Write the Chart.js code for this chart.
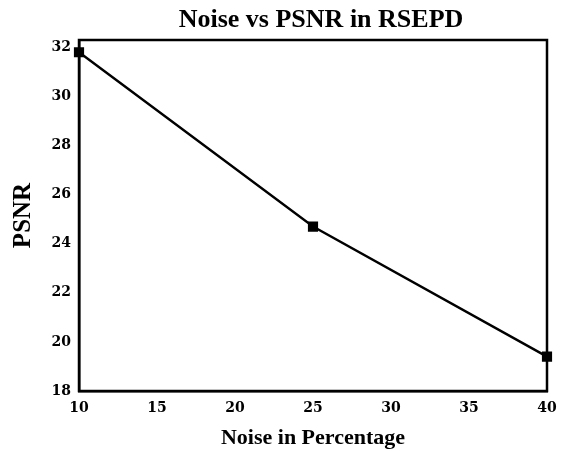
<!DOCTYPE html>
<html>
<head>
<meta charset="utf-8">
<script src="https://cdn.jsdelivr.net/npm/chart.js@4"></script>
<style>
html,body{margin:0;padding:0;background:#fff;}
#wrap{width:561px;height:452px;position:relative;}
</style>
</head>
<body>
<div id="wrap"><canvas id="c" width="561" height="452"></canvas></div>
<script>
const chartTitle = "Noise vs PSNR in RSEPD";
const xTitle = "Noise in Percentage";
const yTitle = "PSNR";
const noiseLevels = [10, 25, 40];
const psnrValues = [31.8, 24.7, 19.4];
const xTickValues = [10, 15, 20, 25, 30, 35, 40];
const yTickValues = [18, 20, 22, 24, 26, 28, 30, 32];

const boxPlugin = {
  id: 'boxAndTitle',
  afterDraw(chart) {
    const {ctx, chartArea: a} = chart;
    ctx.save();
    ctx.strokeStyle = '#000';
    ctx.lineWidth = 2.5;
    ctx.strokeRect(a.left, a.top, a.right - a.left, a.bottom - a.top);
    ctx.fillStyle = '#000';
    ctx.font = 'bold 26px "Liberation Serif", serif';
    ctx.textAlign = 'center';
    ctx.textBaseline = 'alphabetic';
    ctx.fillText(chartTitle, 321, 27);
    ctx.restore();
  }
};

new Chart(document.getElementById('c'), {
  type: 'line',
  data: {
    datasets: [{
      data: noiseLevels.map((x, i) => ({x: x, y: psnrValues[i]})),
      borderColor: '#000',
      backgroundColor: '#000',
      borderWidth: 2.4,
      pointStyle: 'rect',
      pointRadius: 5.5,
      pointHoverRadius: 5.5,
      tension: 0,
      clip: false
    }]
  },
  options: {
    responsive: false,
    animation: false,
    layout: {padding: {top: 40, right: 14, left: 9, bottom: 0}},
    plugins: {legend: {display: false}, title: {display: false}, tooltip: {enabled: false}},
    scales: {
      x: {
        type: 'linear',
        min: 10, max: 40,
        afterBuildTicks: s => { s.ticks = xTickValues.map(v => ({value: v})); },
        afterFit: s => { s.height = 61; s.paddingRight = 0; s.paddingLeft = 0; },
        grid: {display: false, drawTicks: false},
        border: {display: true, color: '#000', width: 2.5},
        ticks: {color: '#000', padding: 9, font: {family: '"DejaVu Serif", serif', weight: 'bold', size: 14}},
        title: {display: true, text: xTitle, color: '#000', padding: {top: 0, bottom: 0},
                font: {family: '"Liberation Serif", serif', weight: 'bold', size: 22}}
      },
      y: {
        type: 'linear',
        min: 18, max: 32.3,
        afterBuildTicks: s => { s.ticks = yTickValues.map(v => ({value: v})); },
        afterFit: s => { s.width = 70; },
        grid: {display: false, drawTicks: false},
        border: {display: true, color: '#000', width: 2.5},
        ticks: {color: '#000', padding: 8, font: {family: '"DejaVu Serif", serif', weight: 'bold', size: 14}},
        title: {display: true, text: yTitle, color: '#000', padding: {top: 0, bottom: 4},
                font: {family: '"Liberation Serif", serif', weight: 'bold', size: 25}}
      }
    }
  },
  plugins: [boxPlugin]
});
</script>
</body>
</html>
